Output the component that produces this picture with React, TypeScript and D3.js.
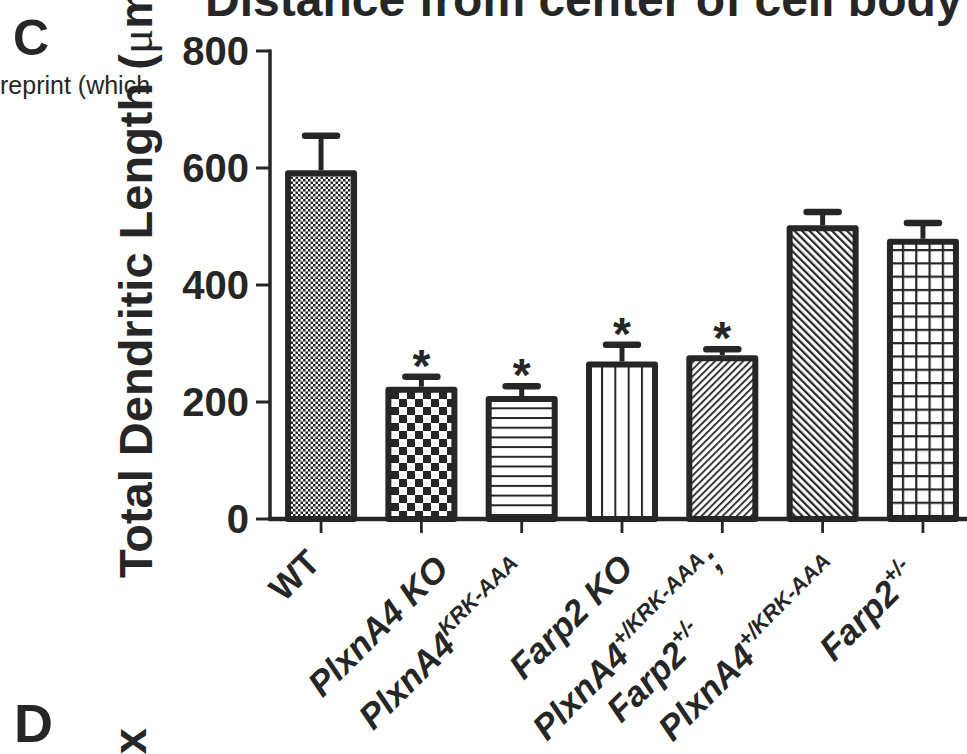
import React, { useEffect, useRef } from "react";
import * as d3 from "d3";

const categories = [
  "WT",
  "PlxnA4 KO",
  "PlxnA4 KRK-AAA",
  "Farp2 KO",
  "PlxnA4 +/KRK-AAA; Farp2 +/-",
  "PlxnA4 +/KRK-AAA",
  "Farp2 +/-",
];
const means = [591, 221, 205, 264, 275, 497, 474];
const errors = [64, 22, 22, 34, 15, 28, 32];
const stars = ["", "*", "*", "*", "*", "", ""];
const yTickValues = [0, 200, 400, 600, 800];

type Seg = { t: string; sup?: boolean };
const labelLines: Seg[][][] = [
  [[{ t: "WT" }]],
  [[{ t: "PlxnA4 KO" }]],
  [[{ t: "PlxnA4" }, { t: "KRK-AAA", sup: true }]],
  [[{ t: "Farp2 KO" }]],
  [
    [{ t: "PlxnA4" }, { t: "+/KRK-AAA", sup: true }, { t: ";" }],
    [{ t: "Farp2" }, { t: "+/-", sup: true }],
  ],
  [[{ t: "PlxnA4" }, { t: "+/KRK-AAA", sup: true }]],
  [[{ t: "Farp2" }, { t: "+/-", sup: true }]],
];
const labelItalic = [false, true, true, true, true, true, true];

// layout: horizontal nudge of each rotated label's right edge relative to its tick (px)
const labelNudge = [1, 29, 8, 13, 31, 20, -3];
const labelTopY = [547, 553, 555, 552, 544, 553, 557];

const titleText = "Distance from center of cell body";
const yTitleMain = "Total Dendritic Length (";
const yTitleMu = "\u03bc";
const yTitleUnit = "m)";
const panelC = "C";
const panelD = "D";
const sideText = "reprint (which";
const nextYTitle = "Index";

const W = 967;
const H = 754;
const INK = "#262626";
const FONT = "'Liberation Sans', Arial, Helvetica, sans-serif";

export default function App() {
  const ref = useRef<SVGSVGElement>(null);

  useEffect(() => {
    const svg = d3.select(ref.current);
    svg.selectAll("*").remove();

    const x = d3
      .scaleBand<string>()
      .domain(categories)
      .range([270, 974])
      .paddingInner(0.342)
      .paddingOuter(0.18);
    const y = d3.scaleLinear().domain([0, 800]).range([519, 51]);
    const bw = x.bandwidth();
    const y0 = y(0);

    const defs = svg.append("defs");

    const mkPattern = (i: number) => {
      const x0 = x(categories[i]) as number;
      const cx = x0 + bw / 2;
      const id = `pat${i}`;
      const p = defs.append("pattern").attr("id", id).attr("patternUnits", "userSpaceOnUse");
      const bg = (w: number, h: number) =>
        p.append("rect").attr("width", w).attr("height", h).attr("fill", "#fff");
      if (i === 0) {
        const s = 2.5;
        p.attr("width", 2 * s).attr("height", 2 * s).attr("x", Math.round(x0)).attr("y", y0);
        bg(2 * s, 2 * s);
        p.append("rect").attr("width", s).attr("height", s).attr("fill", INK);
        p.append("rect").attr("x", s).attr("y", s).attr("width", s).attr("height", s).attr("fill", INK);
      } else if (i === 1) {
        const s = 8;
        p.attr("width", 2 * s).attr("height", 2 * s).attr("x", Math.round(x0) + 3).attr("y", y0);
        bg(2 * s, 2 * s);
        p.append("rect").attr("width", s).attr("height", s).attr("fill", INK);
        p.append("rect").attr("x", s).attr("y", s).attr("width", s).attr("height", s).attr("fill", INK);
      } else if (i === 2) {
        const per = 9.7;
        p.attr("width", 10).attr("height", per).attr("x", 0).attr("y", y0 - 5);
        bg(10, per);
        p.append("rect").attr("width", 10).attr("height", 2).attr("fill", INK);
      } else if (i === 3) {
        const per = 13.3;
        p.attr("width", per).attr("height", 10).attr("x", cx - per / 2 - 1).attr("y", 0);
        bg(per, 10);
        p.append("rect").attr("width", 2).attr("height", 10).attr("fill", INK);
      } else if (i === 4) {
        const per = 5;
        p.attr("width", per).attr("height", per).attr("patternTransform", "rotate(45)");
        bg(per, per);
        p.append("rect").attr("width", 1.8).attr("height", per).attr("fill", INK);
      } else if (i === 5) {
        const per = 5.3;
        p.attr("width", per).attr("height", per).attr("patternTransform", "rotate(-45)");
        bg(per, per);
        p.append("rect").attr("width", 2.2).attr("height", per).attr("fill", INK);
      } else {
        const per = 13.3;
        p.attr("width", per).attr("height", per).attr("x", cx - per / 2 - 1.1).attr("y", y0 - 4);
        bg(per, per);
        p.append("rect").attr("width", 2.2).attr("height", per).attr("fill", INK);
        p.append("rect").attr("width", per).attr("height", 2.2).attr("fill", INK);
      }
      return `url(#${id})`;
    };

    // Bars
    const bars = svg.append("g");
    categories.forEach((c, i) => {
      const fill = mkPattern(i);
      bars
        .append("rect")
        .attr("x", x(c) as number)
        .attr("y", y(means[i]))
        .attr("width", bw)
        .attr("height", y0 - y(means[i]))
        .attr("fill", fill)
        .attr("stroke", INK)
        .attr("stroke-width", 6)
        .attr("stroke-linejoin", "round");
    });

    // Error bars
    const eb = svg.append("g").attr("stroke", INK).attr("fill", "none");
    categories.forEach((c, i) => {
      const cx = (x(c) as number) + bw / 2;
      const top = y(means[i] + errors[i]);
      eb.append("line")
        .attr("x1", cx)
        .attr("x2", cx)
        .attr("y1", y(means[i]) - 3)
        .attr("y2", top)
        .attr("stroke-width", 5);
      eb.append("line")
        .attr("x1", cx - 16)
        .attr("x2", cx + 16)
        .attr("y1", top)
        .attr("y2", top)
        .attr("stroke-width", 6.5)
        .attr("stroke-linecap", "round");
      if (stars[i]) {
        svg
          .append("text")
          .attr("x", cx)
          .attr("y", top + 5)
          .attr("text-anchor", "middle")
          .attr("font-family", FONT)
          .attr("font-weight", "bold")
          .attr("font-size", 46)
          .attr("fill", INK)
          .text(stars[i]);
      }
    });

    // Y axis
    const ax = svg.append("g").attr("stroke", INK);
    ax.append("line").attr("x1", 270).attr("x2", 270).attr("y1", y(800) - 1.5).attr("y2", y0).attr("stroke-width", 3.5);
    yTickValues.forEach((v) => {
      ax.append("line").attr("x1", 256).attr("x2", 271).attr("y1", y(v)).attr("y2", y(v)).attr("stroke-width", 3);
      svg
        .append("text")
        .attr("x", 249)
        .attr("y", y(v))
        .attr("dy", "0.36em")
        .attr("text-anchor", "end")
        .attr("font-family", FONT)
        .attr("font-weight", "bold")
        .attr("font-size", 40)
        .attr("fill", INK)
        .text(String(v));
    });

    // X axis
    ax.append("line").attr("x1", 268.5).attr("x2", W).attr("y1", y0).attr("y2", y0).attr("stroke-width", 4.5);
    categories.forEach((c) => {
      const cx = (x(c) as number) + bw / 2;
      ax.append("line").attr("x1", cx).attr("x2", cx).attr("y1", y0).attr("y2", y0 + 14).attr("stroke-width", 2.8);
    });

    // X labels (rotated -45°), placed by their bounding box's upper-right corner
    labelLines.forEach((lines, i) => {
      const cx = (x(categories[i]) as number) + bw / 2;
      const outer = svg.append("g");
      const g = outer.append("g").attr("transform", "rotate(-45)");
      const texts = lines.map((segs) => {
        const t = g
          .append("text")
          .attr("font-family", FONT)
          .attr("font-weight", "bold")
          .attr("font-style", labelItalic[i] ? "italic" : "normal")
          .attr("font-size", 35)
          .attr("fill", INK);
        let shifted = false;
        segs.forEach((s) => {
          const ts = t.append("tspan").text(s.t);
          if (s.sup) {
            ts.attr("font-size", 22);
            if (!shifted) {
              ts.attr("dy", -15);
              shifted = true;
            }
          } else if (shifted) {
            ts.attr("dy", 15);
            shifted = false;
          }
        });
        return t;
      });
      if (texts.length === 1) {
        texts[0].attr("text-anchor", "end");
      } else {
        const widths = texts.map((t) => (t.node() as SVGTextElement).getComputedTextLength());
        const maxW = Math.max(...widths);
        const gap = 40;
        texts.forEach((t, j) =>
          t
            .attr("text-anchor", "middle")
            .attr("x", -maxW / 2)
            .attr("y", (j - (texts.length - 1) / 2) * gap)
        );
      }
      const bb = (outer.node() as SVGGElement).getBBox();
      const targetRight = cx + labelNudge[i] + 5;
      const targetTop = labelTopY[i] - 5;
      outer.attr(
        "transform",
        `translate(${targetRight - (bb.x + bb.width)},${targetTop - bb.y})`
      );
    });

    // Y title
    const yt = svg
      .append("text")
      .attr("transform", "translate(152,578) rotate(-90)")
      .attr("font-family", FONT)
      .attr("font-weight", "bold")
      .attr("font-size", 47)
      .attr("fill", INK);
    yt.append("tspan").text(yTitleMain);
    yt.append("tspan")
      .attr("font-family", "'Liberation Serif', 'Times New Roman', serif")
      .attr("font-weight", "normal")
      .text(yTitleMu);
    yt.append("tspan").text(yTitleUnit);

    // Title (cut at top)
    svg
      .append("text")
      .attr("x", 205)
      .attr("y", 16)
      .attr("font-family", FONT)
      .attr("font-weight", "bold")
      .attr("font-size", 48)
      .attr("fill", INK)
      .text(titleText);

    // Panel letters and side text
    svg.append("text").attr("x", 13).attr("y", 55).attr("font-family", FONT).attr("font-weight", "bold")
      .attr("font-size", 50).attr("fill", INK).text(panelC);
    svg.append("text").attr("x", 14).attr("y", 742).attr("font-family", FONT).attr("font-weight", "bold")
      .attr("font-size", 54).attr("fill", INK).text(panelD);
    svg.append("text").attr("x", 0).attr("y", 94).attr("font-family", FONT)
      .attr("font-size", 25).attr("fill", INK).text(sideText);
    svg.append("text")
      .attr("transform", "translate(146,728) rotate(-90)")
      .attr("text-anchor", "end")
      .attr("font-family", FONT)
      .attr("font-weight", "bold")
      .attr("font-size", 47)
      .attr("fill", INK)
      .text(nextYTitle);
  }, []);

  return (
    <svg
      ref={ref}
      width={W}
      height={H}
      style={{ position: "absolute", left: 0, top: 0, background: "#fff" }}
    />
  );
}
